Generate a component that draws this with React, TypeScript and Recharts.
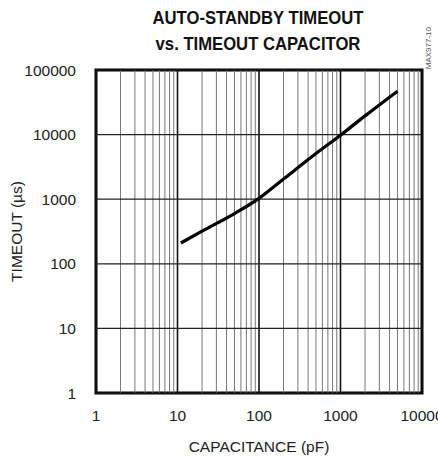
import { LineChart, Line, XAxis, YAxis, ReferenceLine, ReferenceArea } from "recharts";

// capacitance (pF) vs timeout (us)
const capacitance = [11, 20, 50, 100, 200, 500, 1000, 2000, 5000];
const timeout = [210, 320, 600, 1030, 2050, 5100, 9800, 19500, 47000];

const xTicks = [1, 10, 100, 1000, 10000];
const yTicks = [1, 10, 100, 1000, 10000, 100000];
const decades = [1, 10, 100, 1000];
const multipliers = [2, 3, 4, 5, 6, 7, 8, 9];

const data = capacitance.map((c, i) => ({ c, t: timeout[i] }));
const minorX = decades.flatMap((d) => multipliers.map((m) => m * d));

const tickFont = { fontFamily: "Liberation Sans, Arial, sans-serif", fontSize: 15.5, fill: "#222" };

export default function App() {
    return (
        <div style={{ position: "absolute", left: 0, top: 0, width: 438, height: 457, background: "#fff", overflow: "hidden" }}>
            <div
                style={{
                    position: "absolute",
                    left: 0,
                    top: 5,
                    width: 516,
                    textAlign: "center",
                    fontFamily: "'Liberation Sans Narrow', 'Arial Narrow', 'Liberation Sans', sans-serif",
                    fontWeight: "bold",
                    fontSize: 18.5,
                    lineHeight: "26px",
                    color: "#111",
                    transform: "scaleX(0.9)",
                    transformOrigin: "258px 0",
                }}
            >
                AUTO-STANDBY TIMEOUT
                <br />
                vs. TIMEOUT CAPACITOR
            </div>
            <div
                style={{
                    position: "absolute",
                    left: 424,
                    top: 27,
                    writingMode: "vertical-rl",
                    transform: "rotate(180deg)",
                    fontFamily: "Liberation Sans, sans-serif",
                    fontSize: 8,
                    color: "#555",
                }}
            >
                MAX977-10
            </div>
            <LineChart
                width={438}
                height={457}
                data={data}
                margin={{ top: 70, right: 16, bottom: 0, left: 0 }}
                style={{ position: "absolute", left: 0, top: 0 }}
            >
                <XAxis
                    dataKey="c"
                    type="number"
                    scale="log"
                    domain={[1, 10000]}
                    ticks={xTicks}
                    allowDataOverflow
                    height={64}
                    axisLine={false}
                    tickLine={false}
                    tickSize={0}
                    tickMargin={17}
                    tick={tickFont}
                    interval={0}
                    label={{
                        value: "CAPACITANCE (pF)",
                        position: "insideBottom",
                        offset: 5,
                        style: { ...tickFont, textAnchor: "middle" },
                    }}
                />
                <YAxis
                    type="number"
                    scale="log"
                    domain={[1, 100000]}
                    ticks={yTicks}
                    allowDataOverflow
                    width={96}
                    axisLine={false}
                    tickLine={false}
                    tickSize={0}
                    tickMargin={20}
                    tick={tickFont}
                    interval={0}
                    label={{
                        value: "TIMEOUT (µs)",
                        angle: -90,
                        position: "insideLeft",
                        offset: 16,
                        style: { ...tickFont, textAnchor: "middle" },
                    }}
                />
                {minorX.map((v) => (
                    <ReferenceLine key={"mx" + v} x={v} stroke="#777" strokeWidth={1} />
                ))}
                {xTicks.map((v) => (
                    <ReferenceLine key={"dx" + v} x={v} stroke="#111" strokeWidth={1.6} />
                ))}
                {yTicks.map((v) => (
                    <ReferenceLine key={"dy" + v} y={v} stroke="#222" strokeWidth={1.2} />
                ))}
                <ReferenceArea
                    x1={1}
                    x2={10000}
                    y1={1}
                    y2={100000}
                    fill="none"
                    stroke="#000"
                    strokeWidth={3}
                    ifOverflow="visible"
                />
                <Line
                    dataKey="t"
                    type="monotone"
                    stroke="#000"
                    strokeWidth={3.2}
                    dot={false}
                    isAnimationActive={false}
                />
            </LineChart>
        </div>
    );
}
